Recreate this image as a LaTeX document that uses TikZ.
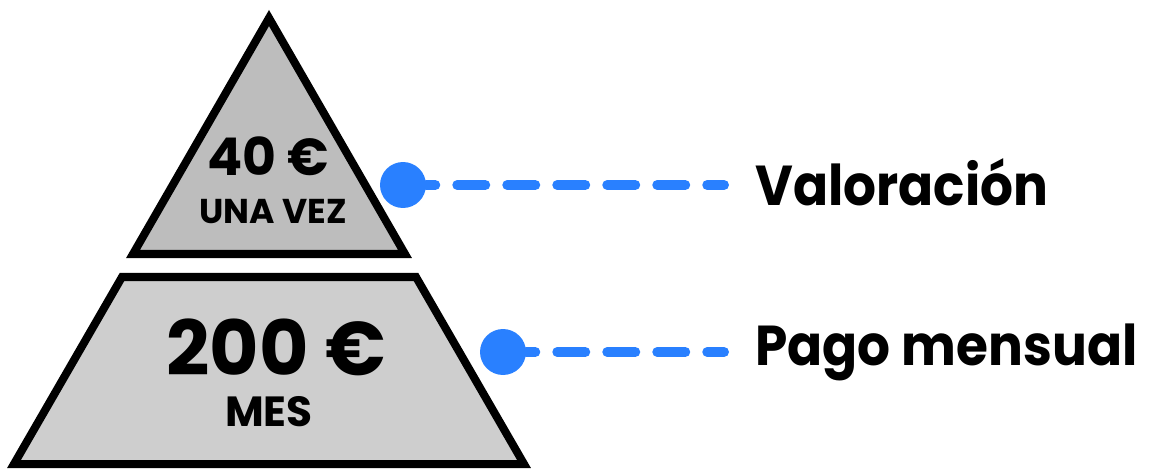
\documentclass[tikz,border=0pt]{standalone}
\usepackage{fontspec}
\setmainfont{Poppins}
\newfontfamily\narrowfont{Poppins}[FakeStretch=0.92]
\definecolor{dotblue}{RGB}{41,128,255}
\definecolor{topgray}{RGB}{189,189,189}
\definecolor{lowgray}{RGB}{206,206,206}
\tikzset{
  tier/.style={draw=black, line width=5.7pt, line join=miter},
  bullet/.style={circle, fill=dotblue, minimum size=32.7pt, inner sep=0pt},
  leader/.style={draw=dotblue, line width=7.1pt, line cap=round,
    dash pattern=on 19.9pt off 15.65pt, dash phase=13.5pt},
  tiertext/.style={anchor=base, inner sep=0pt},
  sidelabel/.style={anchor=base west, inner sep=0pt, font=\narrowfont\bfseries\fontsize{40}{40}\selectfont},
}
\begin{document}
\begin{tikzpicture}[x=0.025cm, y=-0.025cm]
    \useasboundingbox (0,0) rectangle (1149,468);

    % two tiers of the pyramid
    \filldraw[tier, fill=topgray] (269,18) -- (405,254) -- (133,254) -- cycle;
    \filldraw[tier, fill=lowgray] (122,277) -- (416,277) -- (524,464) -- (14,464) -- cycle;

    \node[tiertext, font=\bfseries\fontsize{37}{37}\selectfont] (onceprice) at (268,175) {40 €};
    \node[tiertext, font=\bfseries\fontsize{24.5}{24.5}\selectfont] (oncetext) at (273,223) {UNA VEZ};
    \node[tiertext, font=\bfseries\fontsize{54}{54}\selectfont] (monthprice) at (276,375) {200 €};
    \node[tiertext, font=\bfseries\fontsize{30}{30}\selectfont] (monthtext) at (269,426) {MES};

    % leaders to the labels
    \node[bullet] (dotA) at (403,185) {};
    \node[bullet] (dotB) at (503,352) {};
    \coordinate (endA) at (724,185);
    \coordinate (endB) at (724,352);
    \draw[leader] (dotA.east) -- (endA);
    \draw[leader] (dotB.east) -- (endB);

    \node[sidelabel] (valuation) at (755,205) {Valoración};
    \node[sidelabel] (monthly) at (755,365) {Pago mensual};
\end{tikzpicture}
\end{document}
